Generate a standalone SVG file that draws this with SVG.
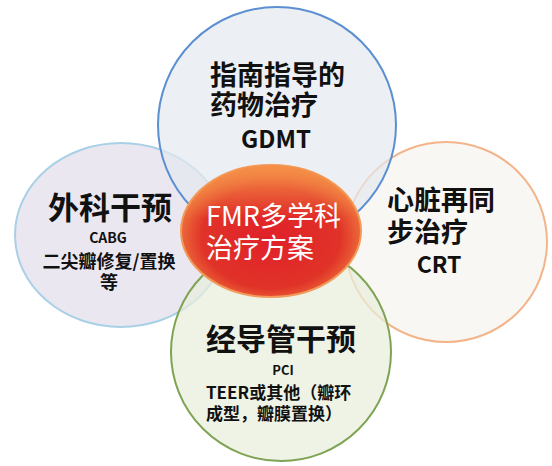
<svg xmlns="http://www.w3.org/2000/svg" width="552" height="466" viewBox="0 0 552 466">
<style>
text{font-family:"Noto Sans CJK SC","Noto Sans",sans-serif;fill:#111;}
.b{font-weight:700;}
.w{fill:#fff;font-weight:400;}
</style>
<defs>
<radialGradient id="rg" cx="0.5" cy="0.55" r="0.55">
<stop offset="0" stop-color="#e0202a"/>
<stop offset="0.7" stop-color="#e03328"/>
<stop offset="1" stop-color="#f08040"/>
</radialGradient>
<linearGradient id="hl" x1="0" y1="0" x2="0" y2="1">
<stop offset="0" stop-color="#f59048" stop-opacity="0.95"/>
<stop offset="0.4" stop-color="#f59048" stop-opacity="0"/>
</linearGradient>
</defs>
<rect width="552" height="466" fill="#fff"/>
<g id="left">
<ellipse cx="121" cy="235" rx="106" ry="92" fill="#e4dfeb" fill-opacity="0.75" stroke="#a8d0e6" stroke-width="2"/>
</g>
<g id="right">
<ellipse cx="446" cy="242" rx="101" ry="100" fill="#f7f3ee" fill-opacity="0.7" stroke="#f4b48a" stroke-width="2"/>
</g>
<g id="bottom">
<ellipse cx="281" cy="352" rx="110" ry="109" fill="#e8eedb" fill-opacity="0.7" stroke="#7ea453" stroke-width="2"/>
</g>
<g id="top">
<ellipse cx="277" cy="125" rx="119" ry="118" fill="#e4e8ee" fill-opacity="0.7" stroke="#5b8fd2" stroke-width="2"/>
</g>
<g id="center">
<ellipse cx="271" cy="231" rx="90" ry="66" fill="url(#rg)" stroke="#f29a5a" stroke-width="2"/>
<ellipse cx="271" cy="231" rx="90" ry="66" fill="url(#hl)"/>
<text class="w" x="206" y="226" font-size="27">FMR多学科</text>
<text class="w" x="206" y="258" font-size="27">治疗方案</text>
</g>
<g id="top-text">
<text class="b" x="210" y="85" font-size="27">指南指导的</text>
<text class="b" x="210" y="115" font-size="27">药物治疗</text>
<text class="b" x="276" y="148" font-size="24" text-anchor="middle">GDMT</text>
</g>
<g id="left-text">
<text class="b" x="110" y="219" font-size="31" text-anchor="middle">外科干预</text>
<text class="b" x="108" y="243" font-size="14" text-anchor="middle">CABG</text>
<text class="b" x="109" y="268" font-size="18" text-anchor="middle">二尖瓣修复/置换</text>
<text class="b" x="109" y="289" font-size="18" text-anchor="middle">等</text>
</g>
<g id="right-text">
<text class="b" x="387" y="210" font-size="27">心脏再同</text>
<text class="b" x="387" y="242" font-size="27">步治疗</text>
<text class="b" x="439" y="273" font-size="23" text-anchor="middle">CRT</text>
</g>
<g id="bottom-text">
<text class="b" x="281" y="350" font-size="30" text-anchor="middle">经导管干预</text>
<text class="b" x="283" y="375" font-size="13" text-anchor="middle">PCI</text>
<text class="b" x="206" y="399" font-size="17">TEER或其他（瓣环</text>
<text class="b" x="206" y="420" font-size="17">成型，瓣膜置换）</text>
</g>
</svg>
